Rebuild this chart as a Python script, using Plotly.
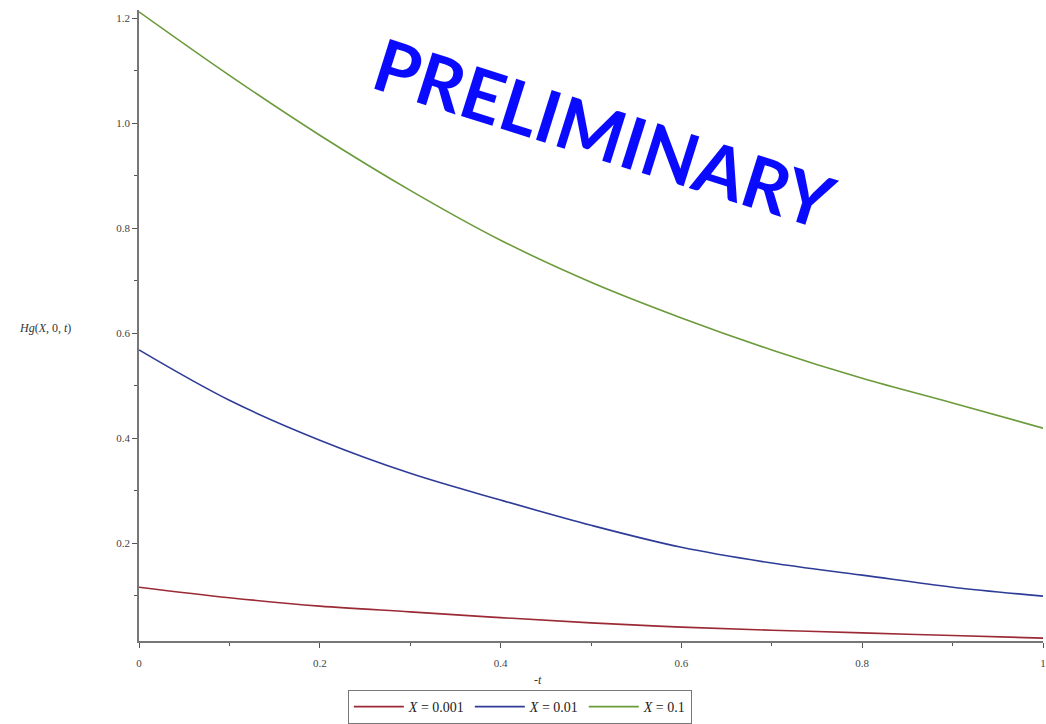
import plotly.graph_objects as go

t = [0.0, 0.1, 0.2, 0.3, 0.4, 0.5, 0.6, 0.7, 0.8, 0.9, 1.0]
hg_x0001 = [0.116, 0.096, 0.080, 0.069, 0.058, 0.048, 0.040, 0.034, 0.029, 0.024, 0.019]
hg_x001 = [0.568, 0.472, 0.396, 0.333, 0.282, 0.234, 0.192, 0.162, 0.139, 0.116, 0.099]
hg_x01 = [1.212, 1.091, 0.977, 0.872, 0.777, 0.697, 0.629, 0.568, 0.514, 0.467, 0.419]

series = [
    ("<i>X</i> = 0.001", hg_x0001, "#9b2a35"),
    ("<i>X</i> = 0.01", hg_x001, "#2e3c98"),
    ("<i>X</i> = 0.1", hg_x01, "#6b9a3b"),
]

fig = go.Figure()
for name, vals, col in series:
    fig.add_trace(go.Scatter(x=t, y=vals, mode="lines", name=name,
                             line=dict(color=col, width=1.6, shape="spline")))

axis_col = "#777777"
tickfont = dict(family="Liberation Serif", size=11, color="#444444")

fig.update_layout(
    width=1046, height=724,
    margin=dict(l=139, r=3, t=10, b=83, autoexpand=False),
    paper_bgcolor="white", plot_bgcolor="white",
    showlegend=True,
    legend=dict(orientation="h", xref="container", yref="container",
                x=0.497, y=0.0, xanchor="center", yanchor="bottom",
                bordercolor="#777777", borderwidth=1,
                font=dict(family="Liberation Serif", size=14, color="#222222"),
                itemwidth=50, tracegroupgap=0),
    xaxis=dict(range=[0, 1], tick0=0, dtick=0.2, showgrid=False, zeroline=False,
               showline=True, linecolor=axis_col, linewidth=1.5,
               ticks="outside", ticklen=5, tickcolor="#555555", tickwidth=1.2,
               minor=dict(dtick=0.1, ticks="outside", ticklen=3, tickcolor="#555555"),
               ticklabelstandoff=6,
               tickfont=tickfont),
    yaxis=dict(range=[0.0135, 1.2155], tickvals=[0.2, 0.4, 0.6, 0.8, 1.0, 1.2],
               tickformat=".1f", showgrid=False, zeroline=False,
               showline=True, linecolor=axis_col, linewidth=1.5,
               ticks="outside", ticklen=5, tickcolor="#555555", tickwidth=1.2,
               minor=dict(tickvals=[0.1, 0.3, 0.5, 0.7, 0.9, 1.1], ticks="outside",
                          ticklen=3, tickcolor="#555555"),
               tickfont=tickfont),
)

fig.add_annotation(text="<i>Hg</i>(<i>X</i>, 0, <i>t</i>)", xref="paper", yref="y",
                   x=-0.135, y=0.61, xanchor="left", yanchor="middle", showarrow=False,
                   font=dict(family="Liberation Serif", size=12, color="#333333"))
fig.add_annotation(text="-<i>t</i>", xref="paper", yref="paper",
                   x=0.441, y=-0.062, xanchor="center", yanchor="middle", showarrow=False,
                   font=dict(family="Liberation Serif", size=12, color="#333333"))
fig.add_annotation(text="<b>PRELIMINARY</b>", xref="paper", yref="paper",
                   x=0.515, y=0.806, xanchor="center", yanchor="middle", showarrow=False,
                   textangle=17.5,
                   font=dict(family="Lato", size=72, color="#0a0aff"))

fig.write_html("out.html")
